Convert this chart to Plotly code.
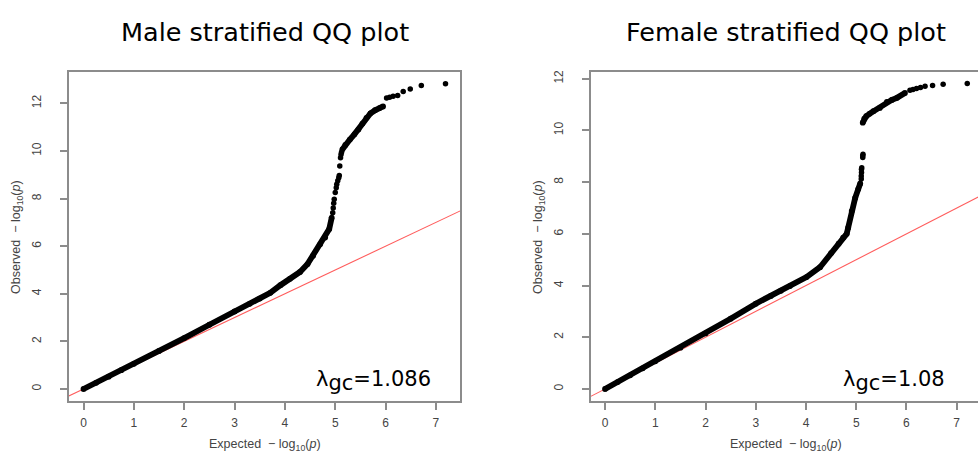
import plotly.graph_objects as go

# ---- Male stratified QQ data (expected vs observed -log10 p) ----
male_band_exp = [0.0, 0.25, 0.5, 0.75, 1.0, 1.5, 2.0, 2.5, 3.0, 3.3, 3.5, 3.71, 3.91, 4.1, 4.3,
                 4.45, 4.56, 4.7, 4.8, 4.88, 4.93, None,
                 5.14, 5.2, 5.29, 5.38, 5.46, 5.54, 5.62, 5.7, 5.79, 5.88, 5.95]
male_band_obs = [0.0, 0.26, 0.52, 0.79, 1.06, 1.6, 2.14, 2.7, 3.26, 3.58, 3.8, 4.04, 4.36, 4.63, 4.92,
                 5.25, 5.6, 6.08, 6.36, 6.72, 7.2, None,
                 10.06, 10.25, 10.48, 10.7, 10.9, 11.15, 11.39, 11.58, 11.71, 11.8, 11.87]
male_pts_exp = [4.95, 4.96, 4.97, 4.98, 5.0, 5.02, 5.03, 5.05, 5.07, 5.08, 5.09, 5.105, 5.115, 5.125,
                6.02, 6.08, 6.15, 6.24, 6.35, 6.49, 6.71, 7.19]
male_pts_obs = [7.4, 7.6, 7.8, 7.97, 8.25, 8.45, 8.6, 8.75, 8.88, 8.97, 9.37, 9.72, 9.85, 9.95,
                12.22, 12.26, 12.3, 12.33, 12.5, 12.6, 12.75, 12.82]
male_lambda = "1.086"

# ---- Female stratified QQ data ----
female_band_exp = [0.0, 0.25, 0.5, 0.75, 1.0, 1.5, 2.0, 2.5, 3.0, 3.3, 3.5, 3.68, 4.01, 4.28, 4.5,
                   4.65, 4.74, 4.81, 4.84, 4.91, 4.98, 5.04, 5.08, None,
                   5.13, 5.16, 5.2, 5.27, 5.34, 5.47, 5.61, 5.71, 5.81, 5.97]
female_band_obs = [0.0, 0.27, 0.53, 0.8, 1.07, 1.6, 2.15, 2.72, 3.3, 3.6, 3.8, 3.98, 4.33, 4.71, 5.25,
                   5.62, 5.85, 6.0, 6.24, 6.88, 7.39, 7.73, 7.95, None,
                   10.3, 10.45, 10.55, 10.65, 10.74, 10.87, 11.1, 11.18, 11.26, 11.45]
female_pts_exp = [5.1, 5.1, 5.105, 5.105, 5.11, 5.13, 5.13, 5.135,
                  6.07, 6.13, 6.2, 6.28, 6.37, 6.52, 6.73, 7.21]
female_pts_obs = [8.12, 8.24, 8.37, 8.5, 8.56, 8.95, 9.02, 9.08,
                  11.55, 11.58, 11.62, 11.66, 11.71, 11.74, 11.78, 11.81]
female_lambda = "1.08"

# null line y = x
null_line = [-1.0, 9.0]

titles = ["Male stratified QQ plot", "Female stratified QQ plot"]
x_ticks = [0, 1, 2, 3, 4, 5, 6, 7]
y_ticks = [0, 2, 4, 6, 8, 10, 12]

W, H = 978, 454
AX_COL = "#8c8c8c"
TICK_FONT = dict(family="Liberation Sans, Arial, sans-serif", size=12, color="#444444")
DEJAVU = "DejaVu Sans, sans-serif"

fig = go.Figure()

panels = [
    dict(bx=male_band_exp, by=male_band_obs, px=male_pts_exp, py=male_pts_obs, lam=male_lambda,
         xa="x", ya="y"),
    dict(bx=female_band_exp, by=female_band_obs, px=female_pts_exp, py=female_pts_obs, lam=female_lambda,
         xa="x2", ya="y2"),
]

for p in panels:
    fig.add_trace(go.Scatter(x=null_line, y=null_line, mode="lines",
                             line=dict(color="#ff5c5c", width=1.1),
                             xaxis=p["xa"], yaxis=p["ya"], hoverinfo="skip"))
    fig.add_trace(go.Scatter(x=p["bx"], y=p["by"], mode="lines+markers",
                             line=dict(color="black", width=5.8),
                             marker=dict(color="black", size=5.8),
                             connectgaps=False,
                             xaxis=p["xa"], yaxis=p["ya"]))
    fig.add_trace(go.Scatter(x=p["px"], y=p["py"], mode="markers",
                             marker=dict(color="black", size=5.5),
                             xaxis=p["xa"], yaxis=p["ya"]))

def px_x(v):
    return v / W

def px_y(v):
    return 1 - v / H

box_top, box_bot = 70, 401
male_l, male_r = 69, 460
fem_l, fem_r = 591, 981

axis_common = dict(showgrid=False, zeroline=False, showline=True, linecolor=AX_COL, linewidth=1.5,
                   ticks="outside", ticklen=7, tickcolor=AX_COL, tickwidth=1.5,
                   tickfont=TICK_FONT)

fig.update_layout(
    width=W, height=H, margin=dict(l=0, r=0, t=0, b=0),
    plot_bgcolor="white", paper_bgcolor="white", showlegend=False,
    xaxis=dict(domain=[px_x(male_l), px_x(male_r)], range=[-0.288, 7.478], anchor="y",
               tickvals=x_ticks, mirror=True, ticklabelstandoff=3, **axis_common),
    yaxis=dict(domain=[px_y(box_bot), px_y(box_top)], range=[-0.513, 13.33], anchor="x",
               tickvals=y_ticks, mirror=True, tickangle=-90, ticklabelstandoff=14, **axis_common),
    xaxis2=dict(domain=[px_x(fem_l), 1.0], range=[-0.279, 7.424], anchor="y2",
                tickvals=x_ticks, mirror=True, ticklabelstandoff=3, **axis_common),
    yaxis2=dict(domain=[px_y(box_bot), px_y(box_top)], range=[-0.472, 12.27], anchor="x2",
                tickvals=y_ticks, mirror=False, tickangle=-90, ticklabelstandoff=14, **axis_common),
)

annotations = []
ylab = "Observed  \u2212 log<sub>10</sub>(<i>p</i>)"
xlab = "Expected  \u2212 log<sub>10</sub>(<i>p</i>)"
lab_font = dict(family="Liberation Sans, Arial, sans-serif", size=12.5, color="#444444")
centers = [(male_l + male_r) / 2, (fem_l + fem_r) / 2]
for i, (cx, ylab_x) in enumerate(zip(centers, [17, 539])):
    annotations.append(dict(text=titles[i], x=px_x(cx), y=px_y(30), xref="paper", yref="paper",
                            showarrow=False, xanchor="center", yanchor="middle",
                            font=dict(family=DEJAVU, size=25.5, color="black")))
    annotations.append(dict(text=xlab, x=px_x(cx), y=px_y(445), xref="paper", yref="paper",
                            showarrow=False, xanchor="center", yanchor="middle", font=lab_font))
    annotations.append(dict(text=ylab, x=px_x(ylab_x), y=px_y(236), xref="paper", yref="paper",
                            showarrow=False, xanchor="center", yanchor="middle", textangle=-90,
                            font=lab_font))

lam_right = [433, 947]
for i, p in enumerate(panels):
    annotations.append(dict(text="\u03bb<sub><span style='font-size:21px'>gc</span></sub>=" + p["lam"],
                            x=px_x(lam_right[i]), y=px_y(381), xref="paper", yref="paper",
                            showarrow=False, xanchor="right", yanchor="middle",
                            font=dict(family=DEJAVU, size=21, color="black")))

fig.update_layout(annotations=annotations)
fig.write_html("out.html")
